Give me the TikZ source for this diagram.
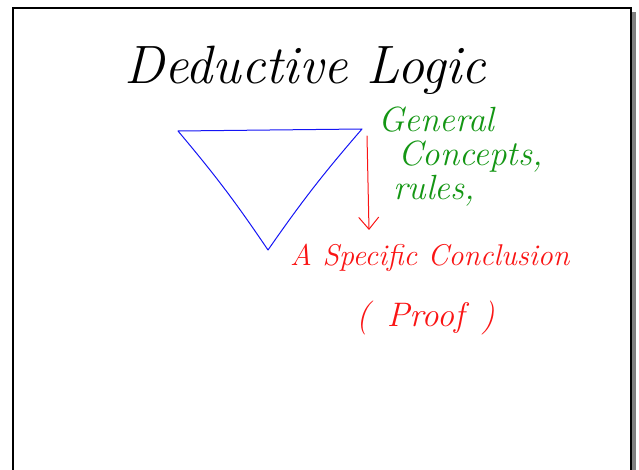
\documentclass[tikz,border=0pt]{standalone}
\usepackage{tikz}
\usetikzlibrary{arrows.meta}
\definecolor{inkgreen}{RGB}{20,150,20}
\definecolor{inkred}{RGB}{250,20,20}
\definecolor{inkblue}{RGB}{20,20,245}

\begin{document}
\begin{tikzpicture}[x=1pt,y=-1pt,
    hand/.style={font=\itshape, inner sep=0pt, anchor=base west},
    ink/.style={line width=1pt, line join=round, line cap=round}]
    \useasboundingbox (0,0) rectangle (639,470);
    % page frame with its shadow
    \fill[gray] (632,12) rectangle (636,470);
    \draw[line width=2.5pt] (13,470) -- (13,8) -- (631,8) -- (631,470);
    % title
    \node[hand, font=\itshape\fontsize{54}{54}\selectfont] (title) at (124,84) {Deductive Logic};
    % triangle
    \coordinate (tl) at (178,131);
    \coordinate (tr) at (362,129);
    \coordinate (bot) at (268,250);
    \draw[ink, inkblue] (tl) -- (tr) to[bend right=3] (bot) to[bend right=3] (tl);
    % arrow down to the conclusion
    \coordinate (from) at (367,136);
    \coordinate (to) at (369,230);
    \draw[ink, inkred, -{Straight Barb[length=12pt,width=20pt]}] (from) -- (to);
    % labels
    \node[hand, inkgreen, align=left, font=\itshape\fontsize{35}{34}\selectfont] (general) at (378,200)
        {General\\ \hspace*{20pt}Concepts,\\ \hspace*{15pt}rules,};
    \node[hand, inkred, font=\itshape\fontsize{30}{30}\selectfont] (concl) at (290,265) {A Specific Conclusion};
    \node[hand, inkred, font=\itshape\fontsize{34}{34}\selectfont] (proof) at (356,326) {(\,\,\,Proof\,\,\,)};
\end{tikzpicture}
\end{document}
